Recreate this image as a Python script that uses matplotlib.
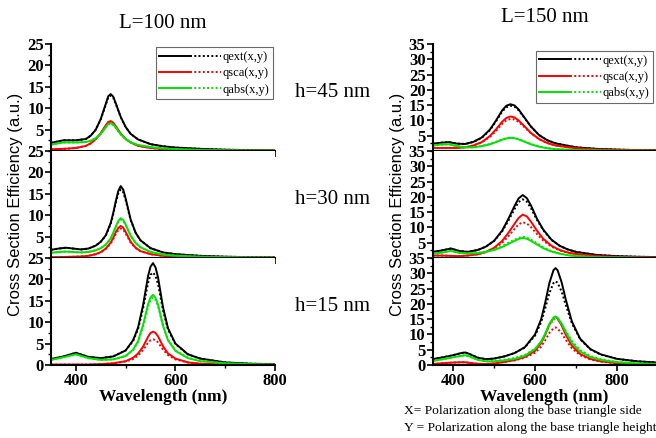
import numpy as np
import matplotlib
matplotlib.use("Agg")
import matplotlib.pyplot as plt
from matplotlib.legend_handler import HandlerTuple
from matplotlib.ticker import MultipleLocator

plt.rcParams["font.family"] = ["Liberation Serif", "DejaVu Serif"]

BLACK = "#000000"
RED = "#ff0000"
GREEN = "#00e400"

# ---------------- L = 100 nm ----------------
# h = 45 nm
wl_100_45 = [350, 375, 400, 420, 430, 440, 450, 460, 465, 470, 475, 480, 490,
             500, 510, 525, 550, 575, 600, 650, 700, 750, 800]
ext_x_100_45 = [1.9, 2.5, 2.5, 2.8, 3.6, 5.0, 7.5, 11.0, 12.8, 13.3, 12.7, 11.2, 8.0,
                5.6, 4.0, 2.7, 1.6, 1.1, 0.8, 0.5, 0.3, 0.2, 0.15]
ext_y_100_45 = [1.9, 2.5, 2.5, 2.8, 3.6, 5.0, 7.4, 10.8, 12.5, 13.0, 12.5, 11.0, 7.9,
                5.6, 4.0, 2.7, 1.6, 1.1, 0.8, 0.5, 0.3, 0.2, 0.15]
sca_x_100_45 = [0.4, 0.5, 0.7, 1.2, 1.8, 2.8, 4.2, 6.0, 6.8, 7.0, 6.6, 5.8, 4.1,
                2.8, 2.0, 1.2, 0.7, 0.45, 0.3, 0.15, 0.1, 0.08, 0.05]
sca_y_100_45 = [0.4, 0.5, 0.7, 1.2, 1.8, 2.8, 4.1, 5.8, 6.6, 6.8, 6.5, 5.7, 4.0,
                2.8, 2.0, 1.2, 0.7, 0.45, 0.3, 0.15, 0.1, 0.08, 0.05]
abs_x_100_45 = [1.5, 2.0, 2.0, 2.1, 2.4, 3.0, 4.0, 5.6, 6.3, 6.5, 6.2, 5.5, 3.9,
                2.8, 2.0, 1.4, 0.9, 0.6, 0.45, 0.25, 0.15, 0.1, 0.08]
abs_y_100_45 = [1.5, 2.0, 2.0, 2.1, 2.4, 3.0, 4.0, 5.5, 6.2, 6.4, 6.1, 5.4, 3.9,
                2.8, 2.0, 1.4, 0.9, 0.6, 0.45, 0.25, 0.15, 0.1, 0.08]

# h = 30 nm
wl_100_30 = [350, 365, 380, 395, 410, 425, 440, 450, 460, 470, 475, 480, 485, 490,
             495, 500, 510, 520, 530, 550, 575, 600, 650, 700, 750, 800]
ext_x_100_30 = [1.9, 2.2, 2.4, 2.2, 2.0, 2.2, 2.9, 3.8, 5.3, 8.2, 10.5, 13.2, 15.6, 16.8,
                16.0, 13.9, 9.0, 5.9, 4.1, 2.3, 1.3, 0.9, 0.5, 0.3, 0.2, 0.15]
ext_y_100_30 = [1.9, 2.2, 2.4, 2.2, 2.0, 2.2, 2.9, 3.8, 5.2, 8.0, 10.2, 12.8, 15.0, 16.0,
                15.4, 13.5, 8.9, 5.9, 4.1, 2.3, 1.3, 0.9, 0.5, 0.3, 0.2, 0.15]
sca_x_100_30 = [0.2, 0.2, 0.25, 0.3, 0.35, 0.5, 0.9, 1.4, 2.2, 3.6, 4.7, 6.0, 7.0, 7.5,
                7.1, 6.1, 3.8, 2.4, 1.6, 0.9, 0.5, 0.35, 0.2, 0.1, 0.08, 0.05]
sca_y_100_30 = [0.2, 0.2, 0.25, 0.3, 0.35, 0.5, 0.9, 1.3, 2.1, 3.4, 4.4, 5.6, 6.5, 6.9,
                6.6, 5.7, 3.6, 2.3, 1.6, 0.9, 0.5, 0.35, 0.2, 0.1, 0.08, 0.05]
abs_x_100_30 = [1.2, 1.4, 1.5, 1.4, 1.3, 1.4, 1.8, 2.3, 3.1, 4.6, 5.9, 7.3, 8.6, 9.3,
                8.9, 7.8, 5.2, 3.5, 2.5, 1.4, 0.8, 0.55, 0.3, 0.2, 0.12, 0.1]
abs_y_100_30 = [1.2, 1.4, 1.5, 1.4, 1.3, 1.4, 1.8, 2.3, 3.1, 4.5, 5.8, 7.1, 8.4, 9.0,
                8.7, 7.7, 5.2, 3.5, 2.5, 1.4, 0.8, 0.55, 0.3, 0.2, 0.12, 0.1]

# h = 15 nm
wl_100_15 = [350, 375, 400, 425, 450, 475, 500, 515, 525, 535, 545, 550, 555, 560,
             565, 575, 585, 600, 625, 650, 700, 750, 800]
ext_x_100_15 = [1.4, 2.0, 2.85, 1.9, 1.6, 2.0, 3.4, 5.8, 8.8, 14.0, 20.8, 23.0, 23.8, 22.8,
                20.5, 13.5, 8.6, 5.0, 2.5, 1.5, 0.6, 0.3, 0.2]
ext_y_100_15 = [1.4, 2.0, 2.85, 1.9, 1.6, 2.0, 3.4, 5.6, 8.4, 13.2, 19.2, 21.1, 21.6, 20.8,
                18.9, 12.8, 8.3, 4.9, 2.5, 1.5, 0.6, 0.3, 0.2]
sca_x_100_15 = [0.1, 0.1, 0.1, 0.1, 0.2, 0.4, 0.9, 1.7, 2.7, 4.3, 6.6, 7.5, 7.8, 7.5,
                6.7, 4.4, 2.7, 1.5, 0.6, 0.3, 0.1, 0.05, 0.05]
sca_y_100_15 = [0.1, 0.1, 0.1, 0.1, 0.2, 0.4, 0.8, 1.4, 2.2, 3.5, 5.2, 5.8, 6.0, 5.8,
                5.3, 3.6, 2.3, 1.3, 0.6, 0.3, 0.1, 0.05, 0.05]
abs_x_100_15 = [1.2, 1.8, 2.5, 1.6, 1.2, 1.3, 2.1, 3.6, 5.6, 9.4, 14.2, 15.8, 16.4, 15.7,
                14.1, 9.2, 5.8, 3.3, 1.6, 0.9, 0.4, 0.2, 0.1]
abs_y_100_15 = [1.2, 1.8, 2.5, 1.6, 1.2, 1.3, 2.1, 3.5, 5.4, 9.0, 13.6, 15.2, 15.8, 15.2,
                13.8, 9.2, 5.9, 3.4, 1.7, 1.0, 0.4, 0.2, 0.1]

# ---------------- L = 150 nm ----------------
# h = 45 nm
wl_150_45 = [350, 370, 390, 410, 430, 450, 470, 490, 505, 520, 530, 540, 550, 560,
             575, 590, 610, 630, 650, 700, 750, 800, 850, 900]
ext_x_150_45 = [2.4, 2.7, 2.9, 2.4, 2.3, 3.0, 4.4, 7.0, 10.0, 13.3, 14.8, 15.3, 14.9, 13.6,
                10.8, 8.0, 5.2, 3.5, 2.5, 1.2, 0.7, 0.45, 0.3, 0.2]
ext_y_150_45 = [2.4, 2.7, 2.9, 2.4, 2.3, 3.0, 4.3, 6.8, 9.7, 12.9, 14.3, 14.8, 14.5, 13.3,
                10.7, 8.0, 5.2, 3.5, 2.5, 1.2, 0.7, 0.45, 0.3, 0.2]
sca_x_150_45 = [1.0, 1.0, 1.0, 1.0, 1.2, 1.8, 2.9, 4.9, 7.1, 9.6, 10.8, 11.3, 11.0, 10.0,
                8.0, 5.9, 3.9, 2.6, 1.8, 0.9, 0.5, 0.35, 0.25, 0.15]
sca_y_150_45 = [1.0, 1.0, 1.0, 1.0, 1.2, 1.8, 2.8, 4.6, 6.6, 8.9, 10.0, 10.5, 10.3, 9.5,
                7.7, 5.8, 3.9, 2.6, 1.8, 0.9, 0.5, 0.35, 0.25, 0.15]
abs_x_150_45 = [1.8, 2.1, 2.2, 1.6, 1.2, 1.2, 1.6, 2.2, 2.9, 3.7, 4.1, 4.3, 4.2, 3.8,
                3.0, 2.2, 1.4, 0.9, 0.6, 0.3, 0.2, 0.1, 0.1, 0.05]
abs_y_150_45 = [1.8, 2.1, 2.2, 1.6, 1.2, 1.2, 1.6, 2.3, 3.0, 3.8, 4.2, 4.4, 4.3, 3.9,
                3.1, 2.3, 1.5, 0.9, 0.6, 0.3, 0.2, 0.1, 0.1, 0.05]

# h = 30 nm
wl_150_30 = [350, 370, 395, 415, 435, 460, 480, 500, 520, 535, 550, 560, 570, 580,
             590, 605, 620, 640, 660, 680, 700, 750, 800, 850, 900]
ext_x_150_30 = [2.0, 2.4, 3.1, 2.3, 2.0, 2.6, 3.7, 5.6, 9.0, 12.8, 17.0, 19.5, 20.6, 19.6,
                17.2, 12.8, 9.3, 6.0, 4.0, 2.8, 2.0, 1.0, 0.6, 0.4, 0.3]
ext_y_150_30 = [2.0, 2.4, 3.1, 2.3, 2.0, 2.6, 3.7, 5.5, 8.7, 12.2, 16.0, 18.3, 19.2, 18.4,
                16.3, 12.4, 9.1, 5.9, 4.0, 2.8, 2.0, 1.0, 0.6, 0.4, 0.3]
sca_x_150_30 = [0.8, 0.8, 0.7, 0.6, 0.8, 1.2, 2.0, 3.3, 5.6, 8.2, 11.2, 13.1, 14.2, 13.6,
                11.9, 8.9, 6.3, 4.0, 2.6, 1.8, 1.3, 0.6, 0.35, 0.25, 0.15]
sca_y_150_30 = [0.8, 0.8, 0.7, 0.6, 0.8, 1.2, 1.9, 3.0, 5.0, 7.1, 9.5, 11.0, 11.7, 11.3,
                10.1, 7.8, 5.7, 3.7, 2.5, 1.7, 1.3, 0.6, 0.35, 0.25, 0.15]
abs_x_150_30 = [1.4, 1.7, 2.3, 1.7, 1.5, 1.6, 2.0, 2.6, 3.6, 4.6, 5.6, 6.2, 6.6, 6.3,
                5.6, 4.4, 3.2, 2.1, 1.4, 0.9, 0.6, 0.3, 0.2, 0.1, 0.05]
abs_y_150_30 = [1.4, 1.7, 2.3, 1.7, 1.5, 1.6, 2.1, 2.8, 3.9, 5.0, 6.0, 6.6, 7.0, 6.7,
                6.0, 4.8, 3.5, 2.3, 1.5, 1.0, 0.7, 0.3, 0.2, 0.1, 0.05]

# h = 15 nm
wl_150_15 = [350, 375, 400, 420, 430, 440, 460, 480, 500, 525, 550, 575, 600, 615,
             625, 635, 645, 650, 655, 665, 675, 690, 710, 735, 760, 800, 850, 900]
ext_x_150_15 = [1.9, 2.5, 3.2, 3.9, 4.1, 3.6, 2.4, 1.9, 2.1, 2.8, 3.9, 5.8, 10.0, 15.0,
                20.5, 26.8, 31.0, 31.7, 31.0, 27.0, 21.4, 14.2, 8.6, 5.2, 3.5, 2.0, 1.2, 0.8]
ext_y_150_15 = [1.9, 2.5, 3.2, 3.9, 4.1, 3.6, 2.4, 1.9, 2.1, 2.8, 3.9, 5.7, 9.6, 14.0,
                18.6, 23.5, 26.8, 27.4, 26.9, 24.0, 19.6, 13.6, 8.4, 5.1, 3.4, 2.0, 1.2, 0.8]
sca_x_150_15 = [0.3, 0.6, 0.8, 0.9, 0.9, 0.7, 0.4, 0.3, 0.5, 1.0, 1.6, 2.6, 4.6, 7.2,
                9.9, 13.2, 15.3, 15.8, 15.2, 12.9, 9.9, 6.3, 3.6, 2.0, 1.2, 0.6, 0.3, 0.2]
sca_y_150_15 = [0.3, 0.6, 0.8, 0.9, 0.9, 0.7, 0.4, 0.3, 0.5, 1.0, 1.5, 2.4, 4.0, 6.0,
                8.1, 10.5, 12.0, 12.3, 11.9, 10.4, 8.2, 5.4, 3.2, 1.8, 1.1, 0.6, 0.3, 0.2]
abs_x_150_15 = [1.3, 1.9, 2.5, 3.0, 3.2, 2.8, 1.7, 1.2, 1.2, 1.5, 2.0, 3.0, 5.2, 7.7,
                10.3, 13.5, 15.5, 15.8, 15.5, 13.5, 10.8, 7.2, 4.4, 2.6, 1.7, 0.9, 0.5, 0.3]
abs_y_150_15 = [1.3, 1.9, 2.5, 3.0, 3.2, 2.8, 1.7, 1.2, 1.3, 1.7, 2.3, 3.3, 5.3, 7.6,
                10.0, 12.9, 14.8, 15.2, 15.0, 13.4, 11.2, 7.8, 4.9, 2.9, 1.9, 1.0, 0.55, 0.35]

heights = ["h=45 nm", "h=30 nm", "h=15 nm"]
legend_labels = ["qext(x,y)", "qsca(x,y)", "qabs(x,y)"]

panels_100 = [
    (wl_100_45, ext_x_100_45, ext_y_100_45, sca_x_100_45, sca_y_100_45, abs_x_100_45, abs_y_100_45),
    (wl_100_30, ext_x_100_30, ext_y_100_30, sca_x_100_30, sca_y_100_30, abs_x_100_30, abs_y_100_30),
    (wl_100_15, ext_x_100_15, ext_y_100_15, sca_x_100_15, sca_y_100_15, abs_x_100_15, abs_y_100_15),
]
panels_150 = [
    (wl_150_45, ext_x_150_45, ext_y_150_45, sca_x_150_45, sca_y_150_45, abs_x_150_45, abs_y_150_45),
    (wl_150_30, ext_x_150_30, ext_y_150_30, sca_x_150_30, sca_y_150_30, abs_x_150_30, abs_y_150_30),
    (wl_150_15, ext_x_150_15, ext_y_150_15, sca_x_150_15, sca_y_150_15, abs_x_150_15, abs_y_150_15),
]

fig = plt.figure(figsize=(6.56, 4.38), dpi=100)

W, H = 656.0, 438.0
row_tops = [44, 151, 258]
row_h = 107


def make_axes(left_px, width_px, row):
    top = row_tops[row]
    return fig.add_axes([left_px / W, 1 - (top + row_h) / H, width_px / W, row_h / H])


def style_axes(ax, xlim, ymax, bottom, xmajor, xminor):
    ax.set_xlim(*xlim)
    ax.set_ylim(0, ymax)
    ax.spines[["top", "right"]].set_visible(False)
    for s in ["left", "bottom"]:
        ax.spines[s].set_linewidth(1.5)
    ax.xaxis.set_major_locator(MultipleLocator(xmajor))
    ax.xaxis.set_minor_locator(MultipleLocator(xminor))
    ax.yaxis.set_major_locator(MultipleLocator(5))
    ax.yaxis.set_minor_locator(MultipleLocator(2.5))
    ax.tick_params(which="major", length=4, width=1.2, direction="out")
    ax.tick_params(which="minor", length=2, width=1.0, direction="out")
    ax.tick_params(axis="y", labelsize=12, pad=1)
    ax.tick_params(axis="x", labelsize=12, pad=2)
    for lab in ax.get_xticklabels() + ax.get_yticklabels():
        lab.set_fontweight("bold")
    if bottom:
        ax.set_xlabel("Wavelength (nm)", fontsize=12.5, fontweight="bold", labelpad=0)
    else:
        ax.tick_params(axis="x", labelbottom=False)
        ticks = np.arange(5, ymax + 1, 5)
        ax.set_yticks(ticks)
        ax.set_yticklabels([str(int(t)) for t in ticks], fontweight="bold")


def draw_panel(ax, data):
    wl, ex, ey, sx, sy, ax_, ay = data
    handles = []
    for (vx, vy, c) in [(ex, ey, BLACK), (sx, sy, RED), (ax_, ay, GREEN)]:
        h1, = ax.plot(wl, vx, color=c, lw=1.4, ls="-")
        h2, = ax.plot(wl, vy, color=c, lw=1.4, ls=(0, (1, 1.2)))
        handles.append((h1, h2))
    return handles


def add_legend(ax, handles, anchor):
    leg = ax.legend(handles, legend_labels, loc="upper right", bbox_to_anchor=anchor,
                    handler_map={tuple: HandlerTuple(ndivide=2, pad=0)},
                    handlelength=4.9, fontsize=9, frameon=True, fancybox=False,
                    edgecolor="#444444", borderpad=0.3, labelspacing=0.35,
                    handletextpad=0.15, borderaxespad=0)
    leg.get_frame().set_linewidth(0.8)


# Left column (L = 100 nm)
for i, data in enumerate(panels_100):
    ax = make_axes(51, 224, i)
    handles = draw_panel(ax, data)
    style_axes(ax, (350, 800), 25, i == 2, 200, 100)
    if i == 0:
        add_legend(ax, handles, (0.991, 0.97))
    ax.text(1.09, 0.55, heights[i], transform=ax.transAxes, fontsize=15,
            ha="left", va="center")
    if i == 1:
        ax.set_ylabel("Cross Section Efficiency (a.u.)", fontsize=12,
                      family=["Liberation Sans", "DejaVu Sans"], labelpad=3)

# Right column (L = 150 nm)
for i, data in enumerate(panels_150):
    ax = make_axes(432.5, 223.5, i)
    handles = draw_panel(ax, data)
    style_axes(ax, (350, 895), 35, i == 2, 200, 100)
    if i == 0:
        add_legend(ax, handles, (0.987, 0.935))
    if i == 1:
        ax.set_ylabel("Cross Section Efficiency (a.u.)", fontsize=12,
                      family=["Liberation Sans", "DejaVu Sans"], labelpad=3)

fig.text(163 / W, 1 - 23 / H, "L=100 nm", fontsize=15, ha="center", va="center")
fig.text(545 / W, 1 - 17 / H, "L=150 nm", fontsize=15, ha="center", va="center")
fig.text(404 / W, 1 - 411 / H, "X= Polarization along the base triangle side",
         fontsize=9.7, ha="left", va="center")
fig.text(404 / W, 1 - 428 / H, "Y = Polarization along the base triangle height",
         fontsize=9.7, ha="left", va="center")

fig.savefig("out.png", dpi=100)
